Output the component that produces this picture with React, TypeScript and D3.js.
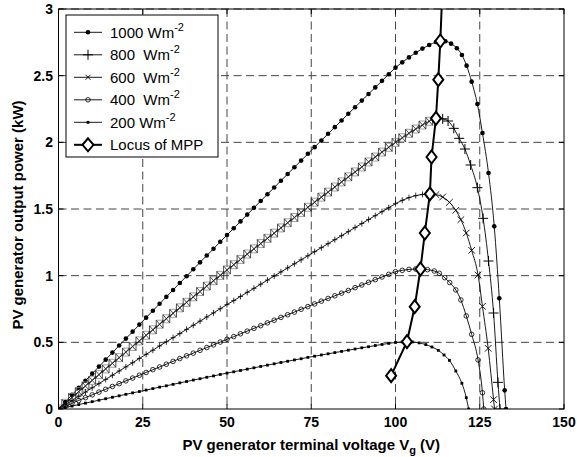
import React from "react";
import * as d3 from "d3";

// Terminal voltage grid (V) for the rising branch of every P-V curve
const riseVolts = [0,2,4,6,8,10,12,14,16,18,20,22,24,26,28,30,32,34,36,38,40,42,44,46,48,50,52,54,56,58,60,62,64,66,68,70,72,74,76,78,80,82,84,86,88,90,92,94,96,98,100];

// Output power (kW) on the rising branch
const p1000Rise = [0,0.053,0.106,0.159,0.212,0.265,0.318,0.370,0.423,0.476,0.528,0.580,0.633,0.685,0.737,0.789,0.841,0.893,0.945,0.996,1.048,1.100,1.151,1.202,1.254,1.305,1.356,1.407,1.458,1.509,1.560,1.611,1.661,1.712,1.763,1.813,1.863,1.914,1.964,2.014,2.064,2.114,2.164,2.214,2.263,2.313,2.363,2.412,2.461,2.511,2.560];
const p800Rise = [0,0.043,0.087,0.130,0.173,0.215,0.258,0.301,0.343,0.385,0.427,0.469,0.511,0.553,0.594,0.636,0.677,0.718,0.759,0.800,0.841,0.881,0.922,0.962,1.002,1.043,1.082,1.122,1.162,1.201,1.241,1.280,1.319,1.358,1.397,1.436,1.474,1.513,1.551,1.589,1.627,1.665,1.703,1.741,1.778,1.815,1.853,1.890,1.927,1.963,2.000];
const p600Rise = [0,0.032,0.064,0.095,0.127,0.159,0.190,0.222,0.253,0.285,0.316,0.347,0.379,0.410,0.441,0.473,0.504,0.535,0.566,0.597,0.628,0.659,0.690,0.721,0.752,0.783,0.813,0.844,0.875,0.905,0.936,0.967,0.997,1.028,1.058,1.089,1.119,1.149,1.180,1.210,1.240,1.270,1.300,1.330,1.361,1.391,1.421,1.450,1.480,1.510,1.540];
const p400Rise = [0,0.021,0.042,0.064,0.085,0.106,0.127,0.148,0.169,0.190,0.211,0.232,0.253,0.274,0.295,0.315,0.336,0.357,0.378,0.399,0.419,0.440,0.461,0.481,0.502,0.523,0.543,0.564,0.584,0.605,0.625,0.646,0.666,0.687,0.707,0.727,0.748,0.768,0.788,0.809,0.829,0.849,0.869,0.889,0.910,0.930,0.950,0.970,0.990,1.010,1.030];
const p200Rise = [0,0.011,0.022,0.033,0.044,0.055,0.066,0.077,0.088,0.099,0.110,0.121,0.131,0.142,0.153,0.164,0.174,0.185,0.196,0.206,0.217,0.227,0.238,0.248,0.259,0.269,0.279,0.289,0.299,0.309,0.319,0.329,0.339,0.349,0.358,0.368,0.377,0.387,0.396,0.405,0.414,0.423,0.432,0.441,0.450,0.459,0.467,0.476,0.484,0.492,0.499];

// Knee and fall-off towards open circuit
const tail1000V = [102,104,106,108,110,112,113.3,114.8,116.5,118.2,119.7,121.1,122.6,124.3,125.8,127.6,129.3,130.8,132.4,132.8];
const tail1000P = [2.600,2.637,2.672,2.703,2.730,2.752,2.760,2.758,2.740,2.706,2.655,2.575,2.455,2.287,2.070,1.770,1.370,0.830,0.140,0];
const tail800V = [102,104,106,108,110,112,114,115.6,117.3,118.9,120.6,122.3,124.3,126.0,127.6,129.1,130.4,131.0];
const tail800P = [2.034,2.068,2.100,2.130,2.158,2.180,2.176,2.160,2.105,2.030,1.950,1.830,1.660,1.430,1.110,0.720,0.200,0];
const tail600V = [102,104,106,108,110.2,112,114,116,117.9,119.4,121.0,122.6,124.5,125.8,127.5,129.1,129.4];
const tail600P = [1.565,1.585,1.600,1.609,1.613,1.608,1.590,1.550,1.490,1.420,1.320,1.190,1.005,0.770,0.455,0.070,0];
const tail400V = [102,104,106,107.4,109.5,111.5,113,114.6,116.1,117.9,119.4,121.0,122.6,124.5,125.8,126.2];
const tail400P = [1.040,1.047,1.050,1.051,1.045,1.035,1.018,0.985,0.948,0.893,0.818,0.698,0.560,0.368,0.122,0];
const tail200V = [102,103.4,105,107,109,110.8,112.7,114.4,116,117.9,119.7,121,121.7];
const tail200P = [0.503,0.505,0.503,0.496,0.483,0.465,0.440,0.405,0.365,0.285,0.193,0.085,0];

// Maximum power points (locus) and the locus continuation beyond the axes
const mppVolts = [98.7,103.4,105.7,107.4,108.7,110.2,110.7,112.0,112.7,113.3];
const mppPower = [0.25,0.505,0.767,1.05,1.32,1.613,1.89,2.18,2.47,2.76];
const locusExtVolts = [114.0];
const locusExtPower = [3.2];

const xTicks = [0,25,50,75,100,125,150];
const xTickLabels = ["0","25","50","75","100","125","150"];
const yTicks = [0,0.5,1,1.5,2,2.5,3];
const yTickLabels = ["0","0.5","1","1.5","2","2.5","3"];

const legendLabels = ["1000 Wm", "800  Wm", "600  Wm", "400  Wm", "200 Wm"];

type Pt = [number, number];
const join = (rise: number[], tv: number[], tp: number[]): Pt[] => [
  ...riseVolts.map((v, i) => [v, rise[i]] as Pt),
  ...tv.map((v, i) => [v, tp[i]] as Pt),
];

const W = 577;
const H = 457;
const L = 58.5, R = 564, T = 9, B = 409;
const FONT = "'Liberation Sans', Arial, Helvetica, sans-serif";

type Kind = "dot" | "bowtie" | "plus" | "tick" | "cross" | "smallcross" | "circle" | "sdot";

function Marker({ kind, cx, cy }: { kind: Kind; cx: number; cy: number }) {
  const s = { stroke: "#000", fill: "none" } as const;
  switch (kind) {
    case "dot":
      return <circle cx={cx} cy={cy} r={2.3} fill="#000" />;
    case "sdot":
      return <rect x={cx - 1.4} y={cy - 1.4} width={2.8} height={2.8} fill="#000" />;
    case "circle":
      return <circle cx={cx} cy={cy} r={2.3} {...s} strokeWidth={0.8} />;
    case "plus":
      return <path d={`M${cx - 5},${cy}H${cx + 5}M${cx},${cy - 5}V${cy + 5}`} {...s} strokeWidth={1} />;
    case "tick":
      return <path d={`M${cx - 2.5},${cy}H${cx + 2.5}M${cx},${cy - 3}V${cy + 3}`} {...s} strokeWidth={0.8} />;
    case "cross":
      return <path d={`M${cx - 3.3},${cy - 3.3}L${cx + 3.3},${cy + 3.3}M${cx - 3.3},${cy + 3.3}L${cx + 3.3},${cy - 3.3}`} {...s} strokeWidth={0.9} />;
    case "smallcross":
      return <path d={`M${cx - 2.5},${cy - 2.5}L${cx + 2.5},${cy + 2.5}M${cx - 2.5},${cy + 2.5}L${cx + 2.5},${cy - 2.5}`} {...s} strokeWidth={0.9} />;
    case "bowtie":
      return (
        <g fill="none">
          <path
            d={`M${cx - 3.4},${cy - 4}H${cx + 3.4}M${cx - 3.4},${cy + 4}H${cx + 3.4}`}
            stroke="#8a8a8a"
            strokeWidth={0.8}
          />
          <path
            d={`M${cx - 3.4},${cy - 4}L${cx + 3.4},${cy + 4}M${cx - 3.4},${cy + 4}L${cx + 3.4},${cy - 4}M${cx - 3.4},${cy - 4}V${cy + 4}M${cx + 3.4},${cy - 4}V${cy + 4}`}
            stroke="#222"
            strokeWidth={0.8}
          />
        </g>
      );
  }
}

function Diamond({ cx, cy, w = 5, h = 6.5 }: { cx: number; cy: number; w?: number; h?: number }) {
  return (
    <path
      d={`M${cx},${cy - h}L${cx + w},${cy}L${cx},${cy + h}L${cx - w},${cy}Z`}
      fill="#fff"
      stroke="#000"
      strokeWidth={2}
    />
  );
}

export default function App() {
  const x = d3.scaleLinear().domain([0, 150]).range([L, R]);
  const y = d3.scaleLinear().domain([0, 3]).range([B, T]);

  const curves: { pts: Pt[]; marker: (v: number) => Kind }[] = [
    { pts: join(p1000Rise, tail1000V, tail1000P), marker: () => "dot" },
    { pts: join(p800Rise, tail800V, tail800P), marker: (v) => (v <= 110 ? "bowtie" : "plus") },
    { pts: join(p600Rise, tail600V, tail600P), marker: (v) => (v <= 108 ? "tick" : "cross") },
    { pts: join(p400Rise, tail400V, tail400P), marker: () => "circle" },
    { pts: join(p200Rise, tail200V, tail200P), marker: () => "sdot" },
  ];

  const line = d3
    .line<Pt>()
    .x((d) => x(d[0]))
    .y((d) => y(d[1]))
    .curve(d3.curveMonotoneX);

  const locusPts: Pt[] = [
    ...mppVolts.map((v, i) => [v, mppPower[i]] as Pt),
    ...locusExtVolts.map((v, i) => [v, locusExtPower[i]] as Pt),
  ];
  const locusLine = d3
    .line<Pt>()
    .x((d) => x(d[0]))
    .y((d) => y(d[1]));

  const legendKinds: Kind[] = ["dot", "plus", "smallcross", "circle", "sdot"];
  const legX0 = 74, legX1 = 102, legTextX = 110;
  const legY = (i: number) => 32.3 + i * 22.5;

  return (
    <svg
      width={W}
      height={H}
      viewBox={`0 0 ${W} ${H}`}
      style={{ position: "absolute", left: 0, top: 0, background: "#fff" }}
      fontFamily={FONT}
    >
      <rect x={0} y={0} width={W} height={H} fill="#fff" />
      <defs>
        <clipPath id="plotArea">
          <rect x={L} y={T} width={R - L} height={B - T} />
        </clipPath>
      </defs>

      {/* grid */}
      <g stroke="#444" strokeWidth={1} strokeDasharray="8,4.5">
        {xTicks.slice(1, -1).map((t) => (
          <line key={`gx${t}`} x1={x(t)} x2={x(t)} y1={T} y2={B} />
        ))}
        {yTicks.slice(1).map((t) => (
          <line key={`gy${t}`} x1={L} x2={R} y1={y(t)} y2={y(t)} />
        ))}
      </g>

      <g clipPath="url(#plotArea)">
        {curves.map((c, i) => (
          <path key={`c${i}`} d={line(c.pts) || ""} fill="none" stroke="#000" strokeWidth={0.9} />
        ))}
        {curves.map((c, i) => (
          <g key={`m${i}`}>
            {c.pts.map((p, j) => (
              <Marker key={j} kind={c.marker(p[0])} cx={x(p[0])} cy={y(p[1])} />
            ))}
          </g>
        ))}
        <path d={locusLine(locusPts) || ""} fill="none" stroke="#000" strokeWidth={2} />
        {mppVolts.map((v, i) => (
          <Diamond key={`d${i}`} cx={x(v)} cy={y(mppPower[i])} />
        ))}
      </g>

      {/* frame and ticks */}
      <rect x={L} y={T} width={R - L} height={B - T} fill="none" stroke="#000" strokeWidth={1} />
      <g stroke="#000" strokeWidth={1}>
        {xTicks.map((t) => (
          <g key={`tx${t}`}>
            <line x1={x(t)} x2={x(t)} y1={B} y2={B - 5} />
            <line x1={x(t)} x2={x(t)} y1={T} y2={T + 5} />
          </g>
        ))}
        {yTicks.map((t) => (
          <g key={`ty${t}`}>
            <line x1={L} x2={L + 5} y1={y(t)} y2={y(t)} />
            <line x1={R} x2={R - 5} y1={y(t)} y2={y(t)} />
          </g>
        ))}
      </g>

      {/* tick labels */}
      <g fontSize={14} fontWeight="bold" fill="#000">
        {xTicks.map((t, i) => (
          <text key={`lx${t}`} x={x(t)} y={426.5} textAnchor="middle">
            {xTickLabels[i]}
          </text>
        ))}
        {yTicks.map((t, i) => (
          <text key={`ly${t}`} x={53} y={y(t) + 5} textAnchor="end">
            {yTickLabels[i]}
          </text>
        ))}
      </g>

      {/* axis titles */}
      <text x={(L + R) / 2} y={450} textAnchor="middle" fontSize={15} fontWeight="bold">
        PV generator terminal voltage V
        <tspan fontSize={11} dy={4}>g</tspan>
        <tspan dy={-4}> (V)</tspan>
      </text>
      <text
        transform={`translate(22.5, ${(T + B) / 2 + 6}) rotate(-90)`}
        textAnchor="middle"
        fontSize={15}
        fontWeight="bold"
      >
        PV generator output power (kW)
      </text>

      {/* legend */}
      <g>
        <rect x={66} y={15} width={152} height={142} fill="#fff" stroke="#000" strokeWidth={1} />
        {legendLabels.map((lab, i) => (
          <g key={`lg${i}`}>
            <line x1={legX0} x2={legX1} y1={legY(i)} y2={legY(i)} stroke="#000" strokeWidth={0.9} />
            <Marker kind={legendKinds[i]} cx={(legX0 + legX1) / 2} cy={legY(i)} />
            <text x={legTextX} y={legY(i) + 5.5} fontSize={15} style={{ whiteSpace: "pre" }}>
              {lab}
              <tspan fontSize={11} dy={-7}>-2</tspan>
            </text>
          </g>
        ))}
        <line x1={legX0} x2={legX1} y1={legY(5)} y2={legY(5)} stroke="#000" strokeWidth={2} />
        <Diamond cx={(legX0 + legX1) / 2} cy={legY(5)} w={5.5} h={6.5} />
        <text x={legTextX} y={legY(5) + 5.5} fontSize={15}>
          Locus of MPP
        </text>
      </g>
    </svg>
  );
}
